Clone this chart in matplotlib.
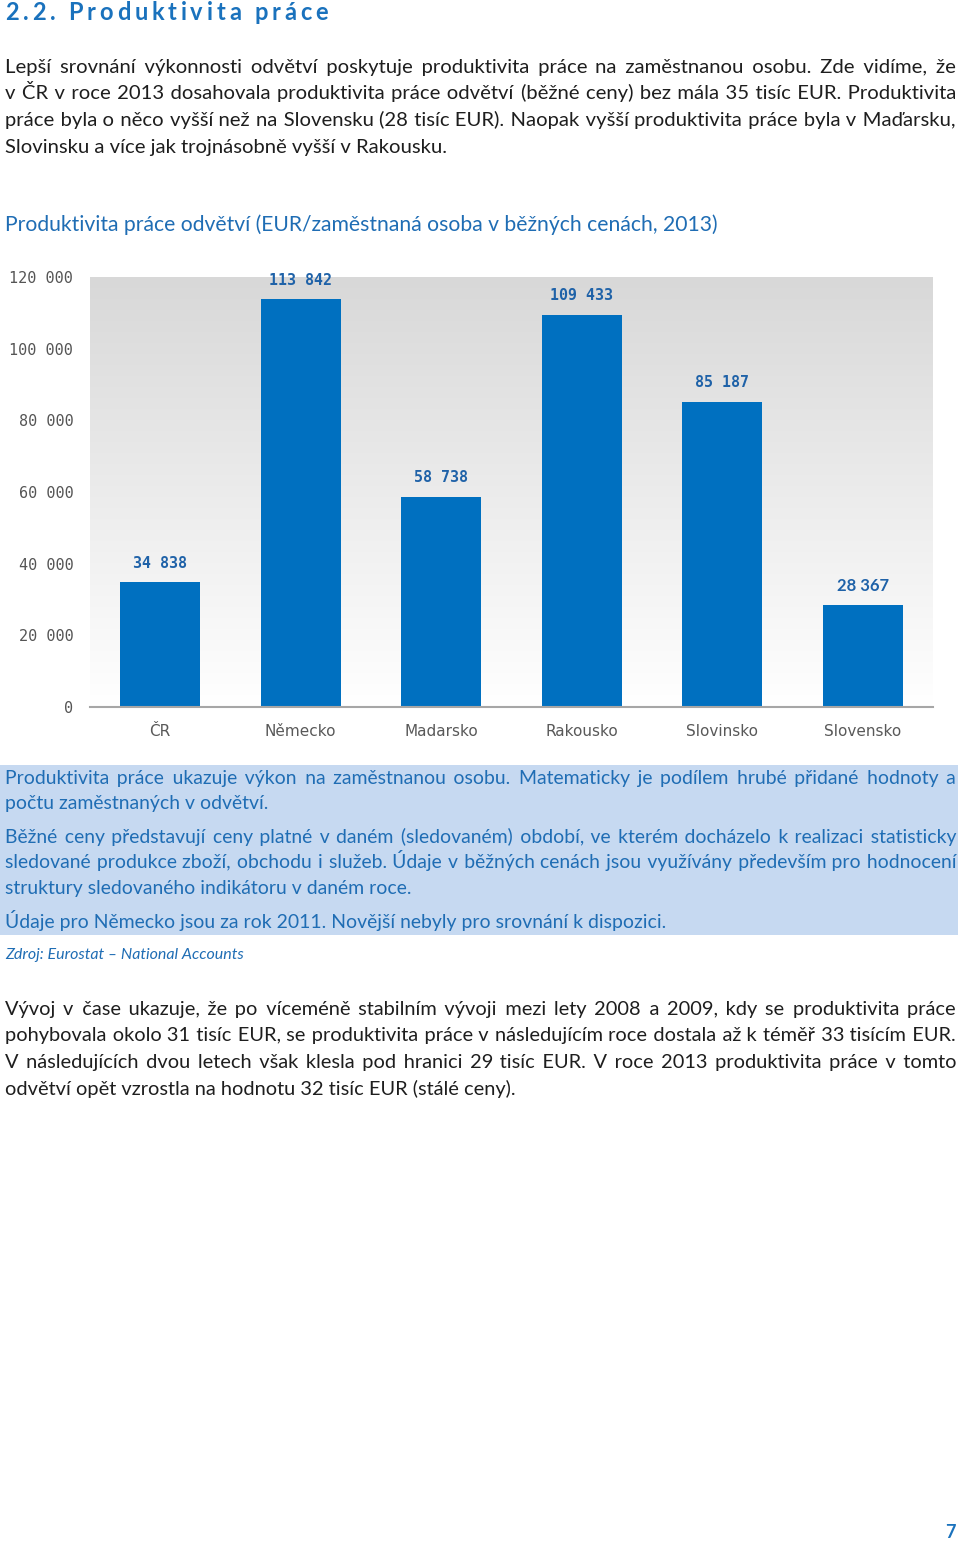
import matplotlib
matplotlib.use("Agg")
import matplotlib.pyplot as plt
import numpy as np
from matplotlib.colors import LinearSegmentedColormap

# chart data
countries = ["ČR", "Německo", "Madarsko", "Rakousko", "Slovinsko", "Slovensko"]
productivity = [34838, 113842, 58738, 109433, 85187, 28367]
y_ticks = [0, 20000, 40000, 60000, 80000, 100000, 120000]

heading = "2.2. Produktivita práce"
chart_title = "Produktivita práce odvětví (EUR/zaměstnaná osoba v běžných cenách, 2013)"
intro_lines = [
    "Lepší srovnání výkonnosti odvětví poskytuje produktivita práce na zaměstnanou osobu. Zde vidíme, že",
    "v ČR v roce 2013 dosahovala produktivita práce odvětví (běžné ceny) bez mála 35 tisíc EUR. Produktivita",
    "práce byla o něco vyšší než na Slovensku (28 tisíc EUR). Naopak vyšší produktivita práce byla v Maďarsku,",
    "Slovinsku a více jak trojnásobně vyšší v Rakousku.",
]
note_paras = [
    ["Produktivita práce ukazuje výkon na zaměstnanou osobu. Matematicky je podílem hrubé přidané hodnoty a",
     "počtu zaměstnaných v odvětví."],
    ["Běžné ceny představují ceny platné v daném (sledovaném) období, ve kterém docházelo k realizaci statisticky",
     "sledované produkce zboží, obchodu i služeb. Údaje v běžných cenách jsou využívány především pro hodnocení",
     "struktury sledovaného indikátoru v daném roce."],
    ["Údaje pro Německo jsou za rok 2011. Novější nebyly pro srovnání k dispozici."],
]
source = "Zdroj: Eurostat – National Accounts"
outro_lines = [
    "Vývoj v čase ukazuje, že po víceméně stabilním vývoji mezi lety 2008 a 2009, kdy se produktivita práce",
    "pohybovala okolo 31 tisíc EUR, se produktivita práce v následujícím roce dostala až k téměř 33 tisícím EUR.",
    "V následujících dvou letech však klesla pod hranici 29 tisíc EUR. V roce 2013 produktivita práce v tomto",
    "odvětví opět vzrostla na hodnotu 32 tisíc EUR (stálé ceny).",
]
page_no = "7"

W, H = 960, 1548
BLUE = "#0070c0"
TXT_BLUE = "#1f6db4"
BODY = "#1e1e1e"
SANS = ["Lato", "DejaVu Sans"]
HAIR = "\u200a"

fig = plt.figure(figsize=(W / 100, H / 100), dpi=100)
renderer = fig.canvas.get_renderer()


def fx(x):
    return x / W


def fy(y):
    return 1 - y / H


def measure(s, **kw):
    t = fig.text(0, 0, s, **kw)
    w = t.get_window_extent(renderer=renderer).width
    t.remove()
    return w


def fit_size(lines, width, base, **kw):
    widest = max(measure(l, fontsize=base, **kw) for l in lines)
    return base * min(1.0, width / widest * 0.99)


def justify(lines, x0, x1, baselines, size, last_left=True, **kw):
    # stretch the gaps with hair spaces so every line stays one text
    hair = (measure("a" + HAIR * 40 + "a", fontsize=size, **kw)
            - measure("aa", fontsize=size, **kw)) / 40
    for i, (line, y) in enumerate(zip(lines, baselines)):
        if not (last_left and i == len(lines) - 1):
            words = line.split(" ")
            extra = (x1 - x0) - measure(line, fontsize=size, **kw)
            n_hair = max(0, int(round(extra / hair)))
            gaps = len(words) - 1
            out = words[0]
            done = 0
            for g in range(gaps):
                k = int(round(n_hair * (g + 1) / gaps)) - done
                done += k
                out += " " + HAIR * k + words[g + 1]
            line = out
        fig.text(fx(x0), fy(y), line, fontsize=size, va="baseline", **kw)


# heading with letter spacing
hkw = dict(family=SANS, fontweight="bold", color="#1a72bd", fontsize=17)
extra = (323 - measure(heading, **hkw)) / (len(heading) - 1)
for i, ch in enumerate(heading):
    if ch == " ":
        continue
    xpos = 5 + (measure(heading[:i], **hkw) if i else 0) + i * extra
    fig.text(fx(xpos), fy(20), ch, va="baseline", **hkw)

# intro paragraph
body_kw = dict(family=SANS, color=BODY)
s_intro = fit_size(intro_lines[:-1], 951, 15, **body_kw)
justify(intro_lines, 5, 956, [73, 99.5, 126, 152.5], s_intro, **body_kw)

# chart title
tkw = dict(family=SANS, color=TXT_BLUE)
s_title = 15 * 715 / measure(chart_title, fontsize=15, **tkw)
fig.text(fx(5), fy(231), chart_title, fontsize=s_title, va="baseline", **tkw)

# chart
ax = fig.add_axes([fx(90), fy(707), 843 / W, 430 / H])
x = np.arange(len(countries))
grad = np.linspace(0, 1, 256).reshape(-1, 1)
cmap = LinearSegmentedColormap.from_list("bg", ["#ffffff", "#d8d8d8"])
ax.imshow(grad, extent=(-0.5, 5.5, 0, 120000), aspect="auto", cmap=cmap,
          origin="lower", zorder=0)
ax.bar(x, productivity, width=0.57, color=BLUE, zorder=2)
ax.set_xlim(-0.5, 5.5)
ax.set_ylim(0, 120000)
for sp in ["top", "right", "left"]:
    ax.spines[sp].set_visible(False)
ax.spines["bottom"].set_color("#a6a6a6")
ax.spines["bottom"].set_linewidth(1.5)
ax.spines["bottom"].set_zorder(3)
ax.set_yticks(y_ticks)
ax.set_yticklabels([f"{v:,}".replace(",", " ") for v in y_ticks],
                   family="DejaVu Sans Mono", fontsize=10.9, color="#555555")
ax.set_xticks(x)
ax.set_xticklabels(countries, family="DejaVu Sans", fontsize=11, color="#595959")
ax.tick_params(axis="y", length=0, pad=12)
ax.tick_params(axis="x", length=0, pad=12)

for i, v in enumerate(productivity):
    lab = f"{v:,}".replace(",", " ")
    last = i == len(productivity) - 1
    ax.annotate(lab, (x[i], v), xytext=(0, 19), textcoords="offset pixels",
                ha="center", va="center",
                family=SANS if last else "DejaVu Sans Mono", fontweight="bold",
                fontsize=12 if last else 10.8, color="#1f62a8", zorder=4)

# notes box
box = fig.add_axes([0, fy(935), 958 / W, 170 / H])
box.set_facecolor("#c6d9f1")
box.set_xticks([])
box.set_yticks([])
for sp in box.spines.values():
    sp.set_visible(False)
box.set_zorder(-1)

note_kw = dict(family=SANS, color=TXT_BLUE)
just_lines = [l for p in note_paras for l in p[:-1]]
s_note = fit_size(just_lines, 951, 15, **note_kw)
note_base = [[784, 809], [843, 868, 894], [928]]
for para, bl in zip(note_paras, note_base):
    justify(para, 5, 956, bl, s_note, **note_kw)

skw = dict(family=SANS, style="italic", color=TXT_BLUE)
s_src = 11 * 239 / measure(source, fontsize=11, **skw)
fig.text(fx(5), fy(959), source, fontsize=s_src, va="baseline", **skw)

# closing paragraph
s_out = fit_size(outro_lines[:-1], 951, 15, **body_kw)
justify(outro_lines, 5, 956, [1015, 1041.5, 1068, 1094.5], s_out, **body_kw)

fig.text(fx(950), fy(1533), page_no, ha="center", va="center", family=SANS,
         fontweight="bold", fontsize=13, color="#1a72bd")

fig.savefig("out.png", dpi=100)
